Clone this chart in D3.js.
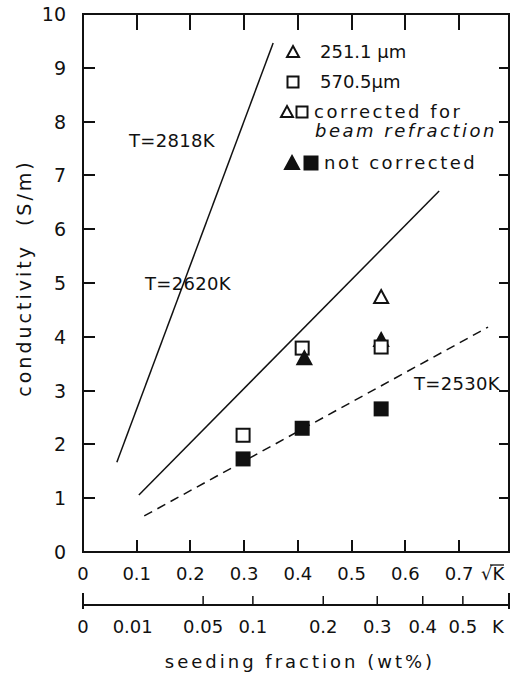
<!doctype html>
<html lang="en">
<head>
  <meta charset="UTF-8">
  <title>Conductivity vs seeding fraction</title>
  <script src="https://d3js.org/d3.v7.min.js"></script>
  <style>
    body { margin: 0; background: #fff; }
    text { font-family: "DejaVu Sans", sans-serif; fill: #111; }
  </style>
</head>
<body>
  <div id="myDiv"></div>
  <script type="text/javascript">
    // axis ticks
    var sqrtKTicks = [0, 0.1, 0.2, 0.3, 0.4, 0.5, 0.6, 0.7];
    var kTicks = [0, 0.01, 0.05, 0.1, 0.2, 0.3, 0.4, 0.5];
    var kTickMarks = [0.05, 0.1, 0.2, 0.3, 0.4, 0.5];
    var yTicks = [0, 1, 2, 3, 4, 5, 6, 7, 8, 9, 10];

    // fitted lines, endpoints in (sqrt K, S/m)
    var lineNames = ["T=2818K", "T=2620K", "T=2530K"];
    var lineStart = [[0.063, 1.67], [0.104, 1.06], [0.114, 0.67]];
    var lineEnd = [[0.354, 9.46], [0.663, 6.71], [0.754, 4.18]];
    var lineDashed = [false, false, true];

    // measured points
    var pointX = [0.298, 0.298, 0.408, 0.412, 0.408, 0.555, 0.555, 0.555, 0.555];
    var pointY = [2.17, 1.73, 3.79, 3.6, 2.3, 4.74, 3.94, 3.81, 2.66];
    var pointShape = ["square", "square", "square", "triangle", "square", "triangle", "triangle", "square", "square"];
    var pointFilled = [false, true, false, true, true, false, true, false, true];

    var svg = d3.select("#myDiv").append("svg")
      .attr("width", 515)
      .attr("height", 673);

    var pL = 83, pR = 509, pT = 14, pB = 552;
    var xMax = 0.793;

    var xScale = d3.scaleLinear().domain([0, xMax]).range([pL, pR]);
    var kScale = d3.scalePow().exponent(0.5).domain([0, xMax * xMax]).range([pL, pR]);
    var yScale = d3.scaleLinear().domain([0, 10]).range([pB, pT]);

    // frame and its inward ticks, one path
    var fp = d3.path();
    fp.moveTo(pL, pT); fp.lineTo(pR, pT); fp.lineTo(pR, pB); fp.lineTo(pL, pB); fp.closePath();
    sqrtKTicks.slice(1).forEach(function(d){
      var x = Math.round(xScale(d));
      fp.moveTo(x, pB); fp.lineTo(x, pB - 12);
      fp.moveTo(x, pT); fp.lineTo(x, pT + 16);
    });
    yTicks.slice(1, 10).forEach(function(d){
      var y = Math.round(yScale(d));
      fp.moveTo(pL, y); fp.lineTo(pL + 12, y);
      fp.moveTo(pR, y); fp.lineTo(pR - 10, y);
    });
    svg.append("path").attr("d", fp.toString())
      .attr("fill", "none").attr("stroke", "#111").attr("stroke-width", 2);

    // tick labels
    svg.selectAll(".xl").data(sqrtKTicks).enter().append("text")
      .attr("x", function(d){ return xScale(d); }).attr("y", 580)
      .attr("text-anchor", "middle").style("font-size", "18px")
      .text(function(d){ return d === 0 ? "0" : d3.format(".1f")(d); });
    svg.selectAll(".yl").data(yTicks).enter().append("text")
      .attr("x", 66).attr("y", function(d){ return yScale(d) + 7; })
      .attr("text-anchor", "end").style("font-size", "19px")
      .text(function(d){ return d; });

    svg.append("text").attr("x", 481).attr("y", 580).style("font-size", "18px").text("√K");
    svg.append("line").attr("x1", 490).attr("x2", 504).attr("y1", 565).attr("y2", 565)
      .attr("stroke", "#111").attr("stroke-width", 1.3);

    // second axis (K)
    var kY = 605;
    svg.append("line").attr("x1", pL).attr("x2", pR).attr("y1", kY).attr("y2", kY)
      .attr("stroke", "#111").attr("stroke-width", 2);
    svg.selectAll(".kend").data([0, xMax * xMax]).enter().append("line")
      .attr("x1", function(d){ return kScale(d); }).attr("x2", function(d){ return kScale(d); })
      .attr("y1", kY - 12).attr("y2", kY + 4)
      .attr("stroke", "#111").attr("stroke-width", 2);
    svg.selectAll(".ktick").data(kTickMarks).enter().append("line")
      .attr("x1", function(d){ return kScale(d); }).attr("x2", function(d){ return kScale(d); })
      .attr("y1", kY - 9).attr("y2", kY)
      .attr("stroke", "#111").attr("stroke-width", 1.5);
    svg.selectAll(".klabel").data(kTicks).enter().append("text")
      .attr("x", function(d){ return d === 0.01 ? kScale(d) - 4 : kScale(d); })
      .attr("y", 633).attr("text-anchor", "middle").style("font-size", "18px")
      .text(function(d){ return d === 0 ? "0" : String(d); });
    svg.append("text").attr("x", 498).attr("y", 633).attr("text-anchor", "middle")
      .style("font-size", "18px").text("K");

    // axis titles
    svg.append("text").attr("x", 300).attr("y", 668).attr("text-anchor", "middle")
      .style("font-size", "18px").style("letter-spacing", "3px").text("seeding fraction (wt%)");
    svg.append("text").attr("transform", "translate(31,278) rotate(-90)")
      .attr("text-anchor", "middle").style("font-size", "19px").style("letter-spacing", "3px")
      .style("white-space", "pre")
      .text("conductivity  (S/m)");

    // lines
    lineNames.forEach(function(name, i){
      svg.append("line")
        .attr("x1", xScale(lineStart[i][0])).attr("y1", yScale(lineStart[i][1]))
        .attr("x2", xScale(lineEnd[i][0])).attr("y2", yScale(lineEnd[i][1]))
        .attr("stroke", "#111").attr("stroke-width", 1.5)
        .attr("stroke-dasharray", lineDashed[i] ? "9,6" : null);
    });
    var lineLabelPos = [[129, 147], [145, 290], [414, 390]];
    lineNames.forEach(function(name, i){
      svg.append("text").attr("x", lineLabelPos[i][0]).attr("y", lineLabelPos[i][1])
        .style("font-size", "18px").style("letter-spacing", "0.3px").text(name);
    });

    // marker helper
    function marker(g, shape, filled, cx, cy, s) {
      s = s || 7;
      if (shape === "square") {
        g.append("rect").attr("x", cx - s + 0.5).attr("y", cy - s + 0.5).attr("width", 2 * s - 1).attr("height", 2 * s - 1)
          .attr("fill", filled ? "#111" : "#fff").attr("stroke", "#111").attr("stroke-width", 2);
      } else {
        g.append("path")
          .attr("d", "M" + cx + "," + (cy - s) + "L" + (cx + s) + "," + (cy + s - 1) + "L" + (cx - s) + "," + (cy + s - 1) + "Z")
          .attr("fill", filled ? "#111" : "#fff").attr("stroke", "#111").attr("stroke-width", 2)
          .attr("stroke-linejoin", "miter");
      }
    }

    var pts = svg.append("g");
    pointX.forEach(function(x, i){
      marker(pts, pointShape[i], pointFilled[i], xScale(x), yScale(pointY[i]));
    });

    // legend
    var lg = svg.append("g");
    marker(lg, "triangle", false, 293, 52, 6);
    lg.append("text").attr("x", 320).attr("y", 58).style("font-size", "18px").text("251.1 µm");
    marker(lg, "square", false, 293, 82, 6);
    lg.append("text").attr("x", 320).attr("y", 88).style("font-size", "18px").text("570.5µm");
    marker(lg, "triangle", false, 287, 112, 6);
    marker(lg, "square", false, 302, 112, 6);
    lg.append("text").attr("x", 314).attr("y", 118).style("font-size", "18px").style("letter-spacing", "2.5px").text("corrected for");
    lg.append("text").attr("x", 315).attr("y", 137).style("font-size", "18px").style("font-style", "italic")
      .style("letter-spacing", "2.5px").text("beam refraction");
    marker(lg, "triangle", true, 292, 163, 7);
    marker(lg, "square", true, 311, 163, 7);
    lg.append("text").attr("x", 324).attr("y", 169).style("font-size", "18px").style("letter-spacing", "2.5px").text("not corrected");
  </script>
</body>
</html>
